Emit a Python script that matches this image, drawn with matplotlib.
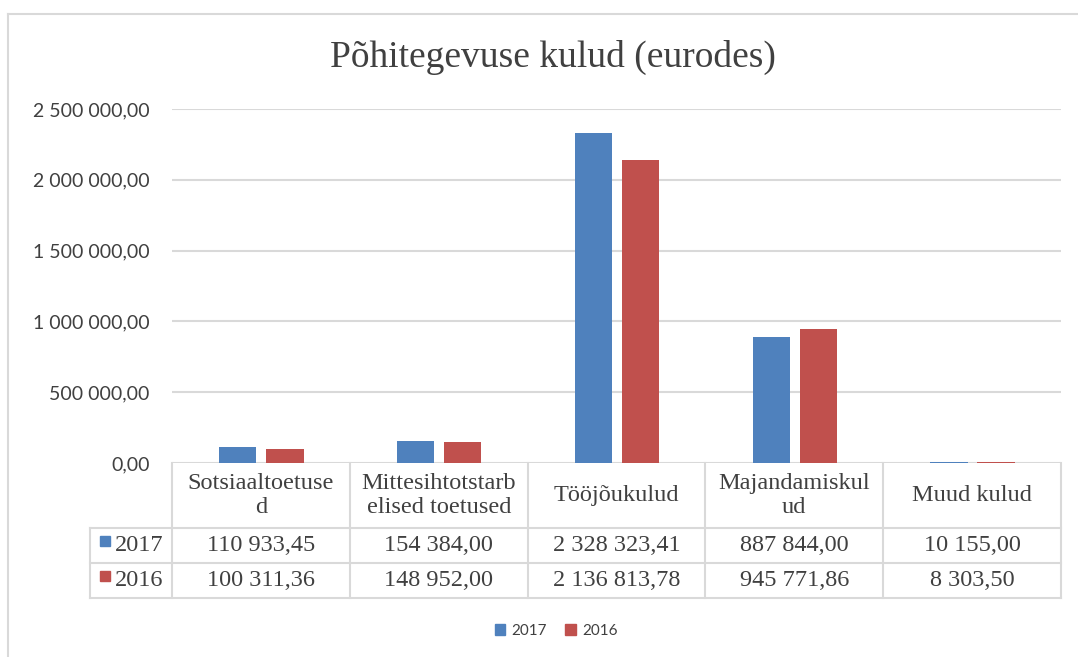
import numpy as np
import matplotlib
matplotlib.use("Agg")
import matplotlib.pyplot as plt
from matplotlib.patches import Patch
from matplotlib.lines import Line2D

categories = ["Sotsiaaltoetuse\nd", "Mittesihtotstarb\nelised toetused", "Tööjõukulud",
              "Majandamiskul\nud", "Muud kulud"]
series_names = ["2017", "2016"]
values_2017 = [110933.45, 154384.00, 2328323.41, 887844.00, 10155.00]
values_2016 = [100311.36, 148952.00, 2136813.78, 945771.86, 8303.50]
y_ticks = [0, 500000, 1000000, 1500000, 2000000, 2500000]

BLUE = "#4F81BD"
RED = "#C0504D"
GRID = "#D9D9D9"
TXT = "#404040"
SANS = ["Lato", "DejaVu Sans"]
SERIF = ["Liberation Serif", "DejaVu Serif"]


def fmt(v):
    return f"{v:,.2f}".replace(",", " ").replace(".", ",")


W, H = 1078, 657
fig = plt.figure(figsize=(W / 100, H / 100), dpi=100)

# thin outer frame of the chart object (only left/top visible)
fig.add_artist(Line2D([8 / W, 8 / W], [0, 1 - 14 / H], color=GRID, lw=1.5))
fig.add_artist(Line2D([8 / W, 1], [1 - 14 / H, 1 - 14 / H], color=GRID, lw=1.5))

left, right, top, bottom = 172, 1061, 109, 463
ax = fig.add_axes([left / W, 1 - bottom / H, (right - left) / W, (bottom - top) / H])

x = np.arange(len(categories))
bw = 0.21
ax.bar(x - 0.13, values_2017, bw, color=BLUE, label=series_names[0], zorder=3)
ax.bar(x + 0.135, values_2016, bw, color=RED, label=series_names[1], zorder=3)

ax.set_xlim(-0.5, len(categories) - 0.5)
ax.set_ylim(0, 2500000)
ax.set_yticks(y_ticks)
ax.set_yticklabels([fmt(v) for v in y_ticks], fontfamily=SANS, fontsize=14, color=TXT)
ax.tick_params(axis="y", length=0, pad=16)
ax.set_xticks([])
for s in ax.spines.values():
    s.set_visible(False)
ax.grid(axis="y", color=GRID, lw=1.5, zorder=0)

# data table under the plot
tr = ax.get_xaxis_transform()
ph = bottom - top
rows = [-(528 - bottom) / ph, -(563 - bottom) / ph, -(598 - bottom) / ph]
lab_left = (90 - left) / ((right - left) / 5) - 0.5
lkw = dict(color=GRID, lw=1.5, transform=tr, clip_on=False, zorder=1)
for y in rows:
    ax.plot([lab_left, 4.5], [y, y], **lkw)
for k in range(6):
    ax.plot([k - 0.5, k - 0.5], [0, rows[-1]], **lkw)
ax.plot([lab_left, lab_left], [rows[0], rows[-1]], **lkw)

for i, c in enumerate(categories):
    ax.text(i, rows[0] / 2, c, transform=tr, ha="center", va="center",
            fontfamily=SERIF, fontsize=17.5, color=TXT, linespacing=1.15)

series = [values_2017, values_2016]
colors = [BLUE, RED]
for r, (name, vals, col) in enumerate(zip(series_names, series, colors)):
    yc = (rows[r] + rows[r + 1]) / 2
    ax.plot([-0.877], [yc + 0.012], marker="s", ms=7, color=col, transform=tr, clip_on=False)
    ax.text(-0.82, yc, name, transform=tr, ha="left", va="center",
            fontfamily=SERIF, fontsize=17.5, color=TXT)
    for i, v in enumerate(vals):
        ax.text(i, yc, fmt(v), transform=tr, ha="center", va="center",
                fontfamily=SERIF, fontsize=17.5, color=TXT)

fig.text(553 / W, 1 - 57 / H, "Põhitegevuse kulud (eurodes)", ha="center", va="center",
         fontfamily=SERIF, fontsize=27, color=TXT)

handles = [Patch(color=c) for c in colors]
fig.legend(handles, series_names, loc="center", bbox_to_anchor=(556 / W, 1 - 631 / H),
           ncol=2, frameon=False, handlelength=0.7, handleheight=0.7, handletextpad=0.4,
           columnspacing=1.2, prop={"family": SANS, "size": 11}, labelcolor=TXT)

fig.savefig("out.png", dpi=100)
